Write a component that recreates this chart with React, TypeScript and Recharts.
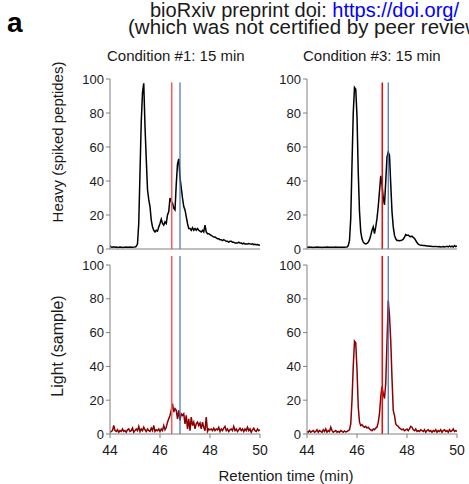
import React from "react";
import { LineChart, Line, XAxis, YAxis, ReferenceLine } from "recharts";

const TIMES = [
  44.0, 44.05, 44.1, 44.15, 44.2, 44.25, 44.3, 44.35, 44.4, 44.45, 44.5, 44.55, 44.6, 44.65, 44.7, 44.75, 44.8, 44.85, 44.9, 44.95,
  45.0, 45.05, 45.1, 45.15, 45.2, 45.25, 45.3, 45.35, 45.4, 45.45, 45.5, 45.55, 45.6, 45.65, 45.7, 45.75, 45.8, 45.85, 45.9, 45.95,
  46.0, 46.05, 46.1, 46.15, 46.2, 46.25, 46.3, 46.35, 46.4, 46.45, 46.5, 46.55, 46.6, 46.65, 46.7, 46.75, 46.8, 46.85, 46.9, 46.95,
  47.0, 47.05, 47.1, 47.15, 47.2, 47.25, 47.3, 47.35, 47.4, 47.45, 47.5, 47.55, 47.6, 47.65, 47.7, 47.75, 47.8, 47.85, 47.9, 47.95,
  48.0, 48.05, 48.1, 48.15, 48.2, 48.25, 48.3, 48.35, 48.4, 48.45, 48.5, 48.55, 48.6, 48.65, 48.7, 48.75, 48.8, 48.85, 48.9, 48.95,
  49.0, 49.05, 49.1, 49.15, 49.2, 49.25, 49.3, 49.35, 49.4, 49.45, 49.5, 49.55, 49.6, 49.65, 49.7, 49.75, 49.8, 49.85, 49.9, 49.95,
  50.0,
];

// Heavy (spiked peptides), Condition #1
const HEAVY_C1 = [
  1.8, 1.2, 1.0, 1.3, 1.0, 1.1, 0.9, 1.0, 1.1, 1.0, 0.9, 1.0, 1.0, 1.1, 1.0, 1.0, 1.1, 1.0, 1.0, 1.1,
  1.2, 1.5, 3, 15, 45, 75, 92, 97.5, 72, 53, 35, 29, 25, 17, 13, 11, 10, 11, 10.5, 13,
  15, 17.5, 15, 14, 16, 15, 20, 22, 30, 28, 27, 24, 23, 38, 50, 53, 42, 36, 30, 25,
  23, 19, 15, 12, 12, 11, 12.5, 11, 12, 11, 12, 11, 10.5, 10, 11, 10, 14, 10, 9, 9,
  8.5, 8, 7.5, 7, 7, 6.5, 6, 6, 5.5, 5.5, 5, 5.5, 5, 4.5, 4.5, 4, 4.5, 4.5, 4, 4,
  3.5, 3.5, 3.5, 4, 3.5, 3.5, 3, 3.5, 3, 3, 3, 3.2, 3, 2.8, 3, 2.6, 2.8, 2.5, 2.6, 2.4,
  2.2,
];

// Heavy (spiked peptides), Condition #3
const HEAVY_C3 = [
  1.0, 1.0, 1.1, 1.0, 1.0, 0.9, 1.0, 1.0, 1.1, 1.0, 1.0, 1.0, 0.9, 1.0, 1.0, 1.0, 1.1, 1.0, 1.0, 1.0,
  1.0, 1.0, 1.0, 1.1, 1.0, 1.0, 1.0, 1.0, 1.0, 1.0, 1.0, 1.1, 1.2, 2, 5, 18, 50, 80, 95, 94,
  78, 45, 22, 10, 6, 4, 3.3, 3, 3.3, 4, 5.5, 8, 11, 13, 9, 13, 18, 25, 34, 43,
  38, 30, 26, 40, 54, 57, 55, 38, 22, 13, 8, 6, 5, 5, 4.8, 5, 5.2, 5.8, 7, 8.5,
  8, 8.2, 7.5, 7.2, 7.5, 6.8, 6.2, 5, 3.8, 2.8, 2.4, 2.2, 2.2, 2, 2, 1.9, 1.8, 1.8, 1.6, 1.6,
  1.5, 1.4, 1.4, 1.5, 1.4, 1.3, 1.4, 1.2, 1.3, 1.5, 1.2, 1.4, 1.6, 1.2, 1.8, 1.3, 1.7, 1.2, 2, 1.4,
  1.8,
];

// Light (sample), Condition #1
const LIGHT_C1 = [
  1, 1.5, 2, 5, 2, 1.5, 2.5, 1, 2, 1.5, 3, 1.5, 2, 1, 2.5, 3, 1.5, 2, 3.5, 1,
  2, 3, 2, 4.5, 1.5, 3, 2, 4, 2.5, 1.5, 3, 2, 1.5, 3.5, 2, 5, 1.5, 2.5, 2, 3,
  1.5, 3, 2, 5, 2.5, 4, 7, 9, 11, 14, 18, 13, 15, 14, 9, 14, 8, 12, 11, 12,
  6, 11, 3, 9, 2, 10, 5, 7, 3, 6, 7, 5, 6.5, 3, 7, 4, 2, 10, 1.5, 3,
  2.5, 3, 2, 3.5, 2, 3, 2.5, 4, 1.5, 3, 2, 3.5, 4.5, 2, 3, 1.5, 2.5, 3, 2, 4.5,
  2, 3, 1.5, 2.5, 3.5, 2, 3, 1.5, 3, 2, 4, 2, 3, 1, 2.5, 3.5, 2, 1.5, 3, 2,
  2.5,
];

// Light (sample), Condition #3
const LIGHT_C3 = [
  1.5, 1, 2, 1, 1.5, 2, 1, 1.5, 2.5, 1, 2, 1.5, 1, 2.5, 1.5, 3, 1, 2, 1.5, 4,
  2, 1, 1.5, 2, 1, 1.5, 1, 2, 1.5, 1, 1.8, 1.2, 1.5, 2, 2.5, 6, 20, 40, 55, 54,
  38, 16, 7, 5, 5.5, 4.5, 4, 4.5, 3.5, 4, 3, 2.5, 2, 3, 2.5, 3.5, 4, 7, 12, 22,
  28, 24, 21, 30, 55, 79, 70, 55, 33, 14, 11, 6, 5, 4.5, 3.5, 3, 2.5, 3, 2, 2.5,
  3, 2, 3, 4.5, 4, 2.5, 2, 3, 1.5, 2, 1.5, 2.5, 2, 1.5, 2.5, 1, 2, 2.5, 1.5, 2,
  1, 2, 1.5, 2.5, 1, 2, 1.5, 2.5, 1, 2, 2.5, 1.5, 2, 1, 2.5, 1.5, 2, 3, 1.5, 2,
  1.5,
];

const X_TICKS = [44, 46, 48, 50];
const Y_TICKS = [0, 20, 40, 60, 80, 100];
const MARKERS_C1 = { red: 46.47, blue: 46.8 };
const MARKERS_C3 = { red: 47.01, blue: 47.25 };

const FONT = "'Liberation Sans', Arial, sans-serif";
const AXIS = "#808080";

const build = (vals: number[]) => TIMES.map((t, i) => ({ t, v: vals[i] }));

type PanelProps = {
  left: number;
  top: number;
  values: number[];
  color: string;
  markers: { red: number; blue: number };
  redColor: string;
  bottom: boolean;
};

function Panel({ left, top, values, color, markers, redColor, bottom }: PanelProps) {
  const height = bottom ? 208 : 189;
  const topY = bottom ? 110 : 98;
  return (
    <div style={{ position: "absolute", left, top }}>
      <LineChart
        width={210}
        height={height}
        data={build(values)}
        margin={{ top: 9, right: 10, left: 0, bottom: 0 }}
      >
        <XAxis
          dataKey="t"
          type="number"
          domain={[44, 50]}
          ticks={X_TICKS}
          allowDataOverflow
          height={bottom ? 30 : 10}
          stroke={AXIS}
          tickSize={4}
          tickMargin={7}
          tick={bottom ? { fill: "#1a1a1a", fontSize: 14, fontFamily: FONT } : false}
        />
        <YAxis
          type="number"
          domain={[0, 100]}
          ticks={Y_TICKS}
          width={50}
          stroke={AXIS}
          tickSize={4}
          tickMargin={2}
          tick={{ fill: "#1a1a1a", fontSize: 13, fontFamily: FONT }}
        />
        <Line
          dataKey="v"
          stroke={color}
          strokeWidth={1.5}
          dot={false}
          isAnimationActive={false}
          type="linear"
        />
        <ReferenceLine
          segment={[{ x: markers.red, y: topY }, { x: markers.red, y: 0 }]}
          stroke={redColor}
          strokeWidth={1.5}
          ifOverflow="visible"
        />
        <ReferenceLine
          segment={[{ x: markers.blue, y: topY }, { x: markers.blue, y: 0 }]}
          stroke="#3f6fc0"
          strokeWidth={1.2}
          ifOverflow="visible"
        />
      </LineChart>
    </div>
  );
}

export default function App() {
  return (
    <div
      style={{
        position: "absolute",
        left: 0,
        top: 0,
        width: 469,
        height: 484,
        background: "#fff",
        overflow: "hidden",
        fontFamily: FONT,
      }}
    >
      <svg width={469} height={484} style={{ position: "absolute", left: 0, top: 0 }}>
        <text x={7} y={32} fontSize={28} fontWeight="bold" fontFamily={FONT} fill="#000">
          a
        </text>
        <text x={150} y={17} fontSize={20} fontFamily={FONT} fill="#1a1a1a">
          bioRxiv preprint doi: <tspan fill="#0000ff">https://doi.org/</tspan>
        </text>
        <text x={128} y={34} fontSize={20.5} fontFamily={FONT} fill="#1a1a1a">
          (which was not certified by peer review)
        </text>
        <text x={107} y={61} fontSize={15} fontFamily={FONT} fill="#1a1a1a">
          Condition #1: 15 min
        </text>
        <text x={303} y={61} fontSize={15} fontFamily={FONT} fill="#1a1a1a">
          Condition #3: 15 min
        </text>
        <text
          x={0}
          y={0}
          transform="translate(63,142) rotate(-90)"
          textAnchor="middle"
          fontSize={15}
          fontFamily={FONT}
          fill="#1a1a1a"
        >
          Heavy (spiked peptides)
        </text>
        <text
          x={0}
          y={0}
          transform="translate(63,346) rotate(-90)"
          textAnchor="middle"
          fontSize={16}
          fontFamily={FONT}
          fill="#1a1a1a"
        >
          Light (sample)
        </text>
        <text x={286} y={481} textAnchor="middle" fontSize={15} fontFamily={FONT} fill="#1a1a1a">
          Retention time (min)
        </text>
      </svg>
      <Panel left={60} top={70} values={HEAVY_C1} color="#000000" markers={MARKERS_C1} redColor="#ff5a5a" bottom={false} />
      <Panel left={257} top={70} values={HEAVY_C3} color="#000000" markers={MARKERS_C3} redColor="#ff0000" bottom={false} />
      <Panel left={60} top={256} values={LIGHT_C1} color="#8b0000" markers={MARKERS_C1} redColor="#ff5a5a" bottom={true} />
      <Panel left={257} top={256} values={LIGHT_C3} color="#8b0000" markers={MARKERS_C3} redColor="#ff0000" bottom={true} />
    </div>
  );
}
